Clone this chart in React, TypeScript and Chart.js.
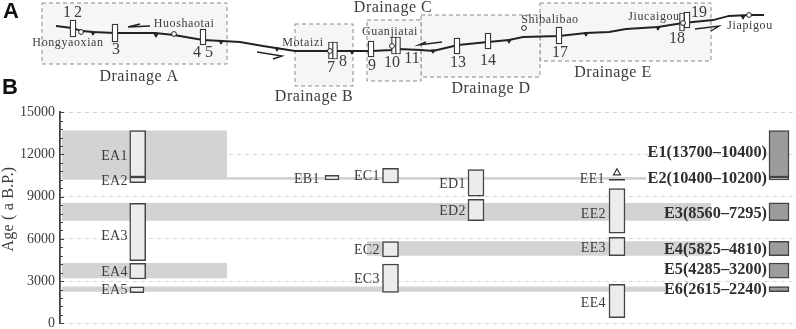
import React, { useEffect, useRef } from "react";
import { Chart, registerables } from "chart.js";

Chart.register(...registerables);

const SERIF = '"Liberation Serif", serif';
const INK = "#3c3c3c";

// ---- Panel A: the fault trace, in map units
const traceX = [56, 72, 82, 93, 115, 155, 174, 203, 222, 240, 263, 295, 330, 352, 372, 392, 398, 421, 433, 458, 488, 509, 523, 559, 586, 609, 626, 658, 683, 713, 729, 749, 764];
const traceY = [26, 28, 31, 32, 33, 33, 35, 40, 41, 42, 46, 51, 51, 51, 51, 50, 49, 50, 51, 45, 42, 40, 37, 36, 33, 32, 29, 27, 23, 20, 16, 15, 15];
const markerX = [93, 156, 221, 277, 352, 433, 509, 586, 658, 743];
const markerY = [33, 35, 42, 49, 52, 51, 41, 34, 28, 17];
const siteX = [81, 174, 330, 392, 524, 683, 749];
const siteY = [32, 34, 51, 46, 28, 23, 15];
const trenchX = [73, 115, 203, 371, 457, 488, 559, 687];
const trenchY: [number, number][] = [[20, 37], [24, 42], [29, 45], [41, 57], [38, 54], [33, 49], [27, 44], [12, 28]];
const thinTrenchX = [331, 335, 394, 398, 682];
const thinTrenchY: [number, number][] = [[42, 59], [42, 59], [37, 54], [37, 54], [13, 31]];
const drainageBoxes = [[42, 227, 3, 64], [295, 353, 24, 86], [367, 421, 20, 81], [421, 540, 15, 77], [540, 711, 3, 61]];
const arrows = [
  [[150, 26], [128, 27], [140, 24]],
  [[257, 52], [282, 56], [273, 59]],
  [[442, 42], [419, 45], [426, 42]],
  [[695, 29], [719, 26], [711, 31]],
];
const placeNames: [string, number, number][] = [["Hongyaoxian", 68, 43], ["Huoshaotai", 184, 24], ["Motaizi", 303, 43], ["Guanjiatai", 390, 32], ["Shibalibao", 550, 20], ["Jiucaigou", 654, 17], ["Jiapigou", 750, 26]];
const trenchNames: [string, number, number][] = [["1", 67, 13], ["2", 78, 13], ["3", 116, 50], ["4", 197, 53], ["5", 209, 53], ["7", 331, 68], ["8", 343, 62], ["9", 372, 66], ["10", 392, 63], ["11", 412, 59], ["13", 458, 63], ["14", 488, 61], ["17", 560, 53], ["18", 677, 39], ["19", 699, 13]];
const drainageNames: [string, number, number][] = [["Drainage A", 139, 77], ["Drainage B", 314, 97], ["Drainage C", 393, 8], ["Drainage D", 491, 89], ["Drainage E", 613, 73]];

// ---- Panel B: ages
const yTicks = [0, 3000, 6000, 9000, 12000, 15000];
const bandX = [[62, 227], [62, 646], [62, 711], [367, 711], [62, 227], [62, 665]];
const eventNames = ["E1", "E2", "E3", "E4", "E5", "E6"];
const eventAges: [number, number][] = [[13700, 10400], [10400, 10200], [8560, 7295], [5825, 4810], [4285, 3200], [2615, 2240]];
const eventLabelY = [12130, 10260, 7770, 5215, 3790, 2370];
const eventBoxX = [779, 779, 779, 779, 779, 779];
const wideBoxX = [137.7, 137.7, 137.7, 137.7, 390.5, 390.5, 390.5, 476, 476, 617, 617, 617];
const wideBoxAges: [number, number][] = [[10400, 13700], [10000, 10400], [4455, 8530], [3150, 4265], [9976, 11020], [4715, 5805], [2204, 4218], [9030, 10925], [7300, 8815], [6400, 9575], [4810, 6115], [400, 2770]];
const narrowBoxX = [137, 332];
const narrowBoxAges: [number, number][] = [[2180, 2600], [10190, 10520]];
const boxNames: [string, number, number][] = [["EA1", 128, 11900], ["EA2", 128, 10120], ["EA3", 128, 6210], ["EA4", 128, 3630], ["EA5", 128, 2370], ["EB1", 320, 10260], ["EC1", 380, 10430], ["EC2", 380, 5215], ["EC3", 380, 3130], ["ED1", 466, 9880], ["ED2", 466, 7940], ["EE1", 605, 10240], ["EE2", 606, 7750], ["EE3", 606, 5330], ["EE4", 606, 1420]];
const ee1LineX = [609, 625];
const ee1LineAge = 10200;
const ee1MarkAge = 10700;
const ee1MarkX = 617;
const axisTitle = "Age ( a B.P.)";
const axisTitleAge = 8125;

const mapTextPlugin = {
  id: "mapText",
  afterDatasetsDraw(chart: any) {
    const { ctx, scales } = chart;
    const put = (rows: [string, number, number][], font: string, spacing: string) => {
      ctx.save();
      ctx.font = font;
      ctx.fillStyle = INK;
      ctx.textAlign = "center";
      ctx.textBaseline = "middle";
      ctx.letterSpacing = spacing;
      rows.forEach(([t, x, y]) => ctx.fillText(t, scales.x.getPixelForValue(x), scales.y.getPixelForValue(y)));
      ctx.restore();
    };
    put(placeNames, `12px ${SERIF}`, "0.6px");
    put(trenchNames, `16px ${SERIF}`, "0px");
    put(drainageNames, `16px ${SERIF}`, "0.5px");
    ctx.save();
    ctx.font = 'bold 22px "Liberation Sans", sans-serif';
    ctx.fillStyle = "#111";
    ctx.textAlign = "center";
    ctx.textBaseline = "middle";
    ctx.fillText("A", scales.x.getPixelForValue(11), scales.y.getPixelForValue(12));
    ctx.fillText("B", scales.x.getPixelForValue(10), scales.y.getPixelForValue(88));
    ctx.restore();
  },
};

const agePlugin = {
  id: "ageMarks",
  afterDatasetsDraw(chart: any) {
    const { ctx, scales } = chart;
    const x0 = scales.y.right;
    ctx.save();
    ctx.strokeStyle = "#444";
    ctx.lineWidth = 1;
    scales.y.ticks.forEach((t: any) => {
      const y = Math.round(scales.y.getPixelForValue(t.value)) + 0.5;
      const len = t.value % 3000 === 0 ? 4 : 3;
      ctx.beginPath();
      ctx.moveTo(x0, y);
      ctx.lineTo(x0 + len, y);
      ctx.stroke();
    });
    ctx.font = `14px ${SERIF}`;
    ctx.fillStyle = INK;
    ctx.textAlign = "right";
    ctx.textBaseline = "middle";
    ctx.letterSpacing = "0.4px";
    boxNames.forEach(([t, x, y]) => ctx.fillText(t, scales.x.getPixelForValue(x), scales.y.getPixelForValue(y)));
    ctx.font = `bold 16.3px ${SERIF}`;
    ctx.letterSpacing = "0px";
    ctx.fillStyle = "#2e2e2e";
    eventNames.forEach((n, i) => {
      const [hi, lo] = eventAges[i];
      ctx.fillText(`${n}(${hi}–${lo})`, scales.x.getPixelForValue(767), scales.y.getPixelForValue(eventLabelY[i]));
    });
    ctx.translate(9, scales.y.getPixelForValue(axisTitleAge));
    ctx.rotate(-Math.PI / 2);
    ctx.font = `16px ${SERIF}`;
    ctx.letterSpacing = "0.2px";
    ctx.fillStyle = INK;
    ctx.textAlign = "center";
    ctx.fillText(axisTitle, 0, 0);
    ctx.restore();
  },
};

export default function App() {
  const mapRef = useRef<HTMLCanvasElement>(null);
  const ageRef = useRef<HTMLCanvasElement>(null);

  useEffect(() => {
    const lineBase = { type: "line" as const, pointRadius: 0, tension: 0 };
    const mapChart = new Chart(mapRef.current!, {
      type: "scatter",
      plugins: [mapTextPlugin],
      data: {
        datasets: [
          ...drainageBoxes.map(([x1, x2, y1, y2]) => ({
            ...lineBase,
            data: [{ x: x1, y: y1 }, { x: x2, y: y1 }, { x: x2, y: y2 }, { x: x1, y: y2 }, { x: x1, y: y1 }],
            borderColor: "#8a8a8a",
            borderWidth: 1,
            borderDash: [4, 3],
            backgroundColor: "#f6f6f6",
            fill: "shape",
            order: 6,
          })),
          {
            ...lineBase,
            data: traceX.map((x, i) => ({ x, y: traceY[i] })),
            borderColor: "#222",
            borderWidth: 1.8,
            order: 4,
          },
          ...arrows.map((a) => ({
            ...lineBase,
            data: a.map(([x, y]) => ({ x, y })),
            borderColor: "#222",
            borderWidth: 1.4,
            order: 4,
          })),
          {
            type: "bar" as const,
            stack: "m",
            barThickness: 6,
            data: trenchX.map((x, i) => ({ x, y: trenchY[i] })),
            backgroundColor: "#fff",
            borderColor: "#333",
            borderWidth: 1.3,
            borderSkipped: false,
            order: 3,
          },
          {
            type: "bar" as const,
            stack: "m",
            barThickness: 5,
            data: thinTrenchX.map((x, i) => ({ x, y: thinTrenchY[i] })),
            backgroundColor: "#fff",
            borderColor: "#333",
            borderWidth: 1.2,
            borderSkipped: false,
            order: 3,
          },
          {
            type: "scatter" as const,
            data: markerX.map((x, i) => ({ x, y: markerY[i] })),
            pointStyle: "triangle",
            rotation: 180,
            pointRadius: 2.2,
            backgroundColor: "#222",
            borderColor: "#222",
            order: 2,
          },
          {
            type: "scatter" as const,
            data: siteX.map((x, i) => ({ x, y: siteY[i] })),
            pointStyle: "circle",
            pointRadius: 2.4,
            backgroundColor: "#fff",
            borderColor: "#222",
            borderWidth: 1,
            order: 1,
          },
        ] as any,
      },
      options: {
        animation: false,
        responsive: false,
        layout: { padding: 0, autoPadding: false },
        plugins: { legend: { display: false }, tooltip: { enabled: false } },
        scales: {
          x: { type: "linear", min: 0, max: 796, display: false, offset: false },
          y: { type: "linear", min: 0, max: 110, reverse: true, display: false, stacked: false },
        },
      },
    } as any);

    const ageChart = new Chart(ageRef.current!, {
      type: "scatter",
      plugins: [agePlugin],
      data: {
        datasets: [
          ...bandX.map(([x1, x2], i) => ({
            ...lineBase,
            data: [{ x: x1, y: eventAges[i][0] }, { x: x2, y: eventAges[i][0] }],
            borderWidth: 0,
            borderColor: "transparent",
            backgroundColor: "#d3d3d3",
            fill: { target: { value: eventAges[i][1] } },
            order: 6,
          })),
          {
            type: "bar" as const,
            stack: "a",
            barThickness: 16,
            data: wideBoxX.map((x, i) => ({ x, y: wideBoxAges[i] })),
            backgroundColor: "#ececec",
            borderColor: "#444",
            borderWidth: 1.5,
            borderSkipped: false,
            order: 3,
          },
          {
            type: "bar" as const,
            stack: "a",
            barThickness: 14,
            data: narrowBoxX.map((x, i) => ({ x, y: narrowBoxAges[i] })),
            backgroundColor: "#ececec",
            borderColor: "#444",
            borderWidth: 1.5,
            borderSkipped: false,
            order: 3,
          },
          {
            type: "bar" as const,
            stack: "a",
            barThickness: 20,
            data: eventBoxX.map((x, i) => ({ x, y: [eventAges[i][1], eventAges[i][0]] })),
            backgroundColor: "#9c9c9c",
            borderColor: "#444",
            borderWidth: 1.5,
            borderSkipped: false,
            order: 3,
          },
          {
            ...lineBase,
            data: ee1LineX.map((x) => ({ x, y: ee1LineAge })),
            borderColor: "#333",
            borderWidth: 1.4,
            order: 2,
          },
          {
            type: "scatter" as const,
            data: [{ x: ee1MarkX, y: ee1MarkAge }],
            pointStyle: "triangle",
            pointRadius: 4,
            backgroundColor: "transparent",
            borderColor: "#333",
            borderWidth: 1.2,
            order: 2,
          },
        ] as any,
      },
      options: {
        animation: false,
        responsive: false,
        layout: { padding: { top: 12.3, bottom: 5.7, left: 0, right: 0 }, autoPadding: false },
        plugins: { legend: { display: false }, tooltip: { enabled: false } },
        scales: {
          x: { type: "linear", min: 60, max: 796, display: false, offset: false },
          y: {
            type: "linear",
            min: 0,
            max: 15000,
            stacked: false,
            afterFit: (s: any) => {
              s.width = 60;
              s.paddingTop = 0;
              s.paddingBottom = 0;
            },
            afterBuildTicks: (s: any) => {
              const out: { value: number }[] = [];
              for (let v = s.min; v <= s.max; v += 600) out.push({ value: v });
              s.ticks = out;
            },
            border: { color: "#444", width: 1.8, dash: [4, 4] },
            grid: {
              drawTicks: false,
              color: (c: any) => (yTicks.includes(c.tick.value) ? "#d6d6d6" : "transparent"),
              lineWidth: 1,
            },
            ticks: {
              autoSkip: false,
              padding: 5,
              maxRotation: 0,
              font: { family: SERIF, size: 14 },
              color: INK,
              callback: (v: any) => (yTicks.includes(v) ? String(v) : ""),
            },
          },
        },
      },
    } as any);

    return () => {
      mapChart.destroy();
      ageChart.destroy();
    };
  }, []);

  return (
    <div style={{ position: "fixed", left: 0, top: 0, width: 796, height: 329, background: "#fff", overflow: "hidden" }}>
      <canvas ref={mapRef} width={796} height={110} style={{ position: "absolute", left: 0, top: 0, width: 796, height: 110 }} />
      <canvas ref={ageRef} width={796} height={229} style={{ position: "absolute", left: 0, top: 100, width: 796, height: 229 }} />
    </div>
  );
}
